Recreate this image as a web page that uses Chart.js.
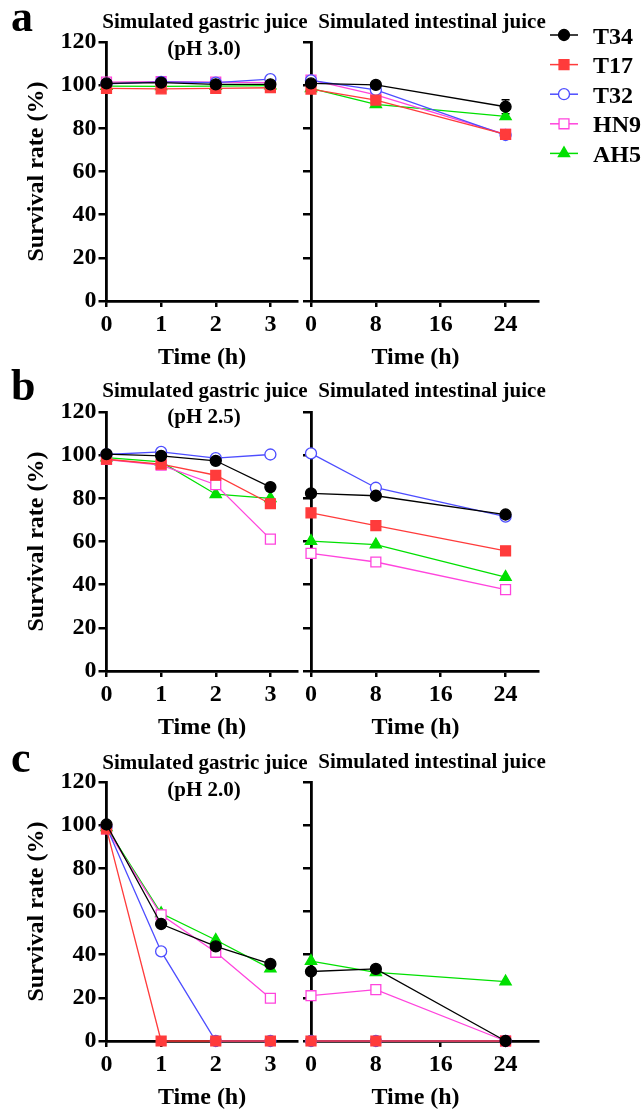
<!DOCTYPE html>
<html>
<head>
<meta charset="utf-8">
<script src="https://cdn.jsdelivr.net/npm/chart.js@4.4.0/dist/chart.umd.min.js"></script>
<style>
  html, body { margin: 0; padding: 0; background: #fff; }
  #fig { position: relative; width: 641px; height: 1110px; overflow: hidden; }
  .row { position: absolute; left: 0; width: 641px; height: 372px; }
  canvas { position: absolute; top: 0; }
  .txt { position: absolute; font-family: 'Liberation Serif', 'Times New Roman', serif; font-weight: bold;
         white-space: nowrap; color: #000; }
  .ttl { font-size: 21px; line-height: 21px; transform: translateX(-50%); }
  .letter { font-size: 44px; line-height: 44px; left: 11px; }
</style>
</head>
<body>
<div id="fig">
  <div class="row" style="top:0px">
    <canvas id="aGastric" width="306" height="372" style="left:0px"></canvas>
    <canvas id="aIntest" width="351" height="372" style="left:290px"></canvas>
    <div class="txt letter" style="top:-5px">a</div>
    <div class="txt ttl" style="left:205px;top:11px">Simulated gastric juice</div>
    <div class="txt ttl" style="left:204px;top:38px">(pH 3.0)</div>
    <div class="txt ttl" style="left:432px;top:11px">Simulated intestinal juice</div>
  </div>
  <div class="row" style="top:370px">
    <canvas id="bGastric" width="306" height="372" style="left:0px"></canvas>
    <canvas id="bIntest" width="351" height="372" style="left:290px"></canvas>
    <div class="txt letter" style="top:-6px">b</div>
    <div class="txt ttl" style="left:205px;top:10px">Simulated gastric juice</div>
    <div class="txt ttl" style="left:204px;top:36px">(pH 2.5)</div>
    <div class="txt ttl" style="left:432px;top:10px">Simulated intestinal juice</div>
  </div>
  <div class="row" style="top:740px">
    <canvas id="cGastric" width="306" height="372" style="left:0px"></canvas>
    <canvas id="cIntest" width="351" height="372" style="left:290px"></canvas>
    <div class="txt letter" style="top:-4px">c</div>
    <div class="txt ttl" style="left:205px;top:12px">Simulated gastric juice</div>
    <div class="txt ttl" style="left:204px;top:39px">(pH 2.0)</div>
    <div class="txt ttl" style="left:432px;top:11px">Simulated intestinal juice</div>
  </div>
</div>
<script>
// sampling times and ticks
const gastricHours = [0, 1, 2, 3];
const intestinalHours = [0, 8, 24];
const gastricTicks = [0, 1, 2, 3];
const intestinalTicks = [0, 8, 16, 24];
const survivalTicks = [0, 20, 40, 60, 80, 100, 120];
const strainNames = ["T34", "T17", "T32", "HN9", "AH5"];

// a - pH 3.0
const aGastricT34 = [100.8, 101.2, 100.4, 100.4];
const aGastricT17 = [98.5, 98.3, 98.5, 98.8];
const aGastricT32 = [100.6, 101.5, 101.2, 102.8];
const aGastricHN9 = [101.4, 101.6, 101.4, 101.2];
const aGastricAH5 = [99.6, 99.4, 99.6, 99.8];
const aIntestT34 = [100.8, 100.1, 90.0];
const aIntestT34Err = [0, 0, 3.2];
const aIntestT17 = [98.2, 93.1, 77.2];
const aIntestT32 = [102.2, 97.8, 76.9];
const aIntestHN9 = [102.4, 95.5, 77.2];
const aIntestAH5 = [98.5, 91.1, 85.5];

// b - pH 2.5
const bGastricT34 = [100.5, 99.7, 97.4, 85.2];
const bGastricT17 = [98.1, 95.8, 90.7, 77.5];
const bGastricT32 = [100.3, 101.5, 98.6, 100.3];
const bGastricHN9 = [98.0, 95.4, 86.3, 61.1];
const bGastricAH5 = [98.9, 96.9, 81.9, 80.0];
const bIntestT34 = [82.3, 81.2, 72.5];
const bIntestT17 = [73.3, 67.4, 55.7];
const bIntestT32 = [100.8, 84.9, 71.5];
const bIntestHN9 = [54.5, 50.5, 37.7];
const bIntestAH5 = [60.2, 58.6, 43.5];

// c - pH 2.0
const cGastricT34 = [100.3, 54.2, 43.8, 35.7];
const cGastricT17 = [98.3, 0, 0, 0];
const cGastricT32 = [99.2, 41.5, 0, 0];
const cGastricHN9 = [98.3, 58.5, 41.1, 19.8];
const cGastricAH5 = [99.0, 59.2, 46.8, 33.5];
const cIntestT34 = [32.2, 33.4, 0];
const cIntestT17 = [0, 0, 0];
const cIntestT32 = [0, 0, 0];
const cIntestHN9 = [21.0, 23.8, 0];
const cIntestAH5 = [37.0, 31.8, 27.5];

const serif = "'Liberation Serif', 'Times New Roman', serif";
const boldFont = { family: serif, size: 24, weight: "bold", lineHeight: 1.2 };

const strainStyles = [
  { color: "#000000", pointStyle: "circle", radius: 5.5, fill: "#000000" },
  { color: "#ff3b3b", pointStyle: "rect", radius: 7, fill: "#ff3b3b" },
  { color: "#4d4dff", pointStyle: "circle", radius: 5.5, fill: "#ffffff" },
  { color: "#ff44dd", pointStyle: "rect", radius: 7, fill: "#ffffff" },
  { color: "#00e000", pointStyle: "triangle", radius: 6.5, fill: "#00e000" }
];

function makeDatasets(hours, series, errors) {
  return strainNames.map((name, i) => {
    const st = strainStyles[i];
    return {
      label: name,
      data: hours.map((h, k) => ({ x: h, y: series[i][k] })),
      errors: errors ? errors[i] : null,
      borderColor: st.color,
      backgroundColor: st.fill,
      borderWidth: 1.3,
      pointStyle: st.pointStyle,
      pointRadius: st.radius,
      pointBackgroundColor: st.fill,
      pointBorderColor: st.color,
      pointBorderWidth: 1.3,
      tension: 0,
      fill: false,
      clip: false
    };
  });
}

// small vertical error bars, drawn under the markers
const errorBarPlugin = {
  id: "errorBars",
  beforeDatasetsDraw(chart) {
    const { ctx } = chart;
    const xs = chart.scales.x, ys = chart.scales.y;
    chart.data.datasets.forEach(ds => {
      if (!ds.errors) return;
      ctx.save();
      ctx.strokeStyle = ds.borderColor;
      ctx.lineWidth = 1.5;
      ds.data.forEach((p, k) => {
        const e = ds.errors[k];
        if (!e) return;
        const px = xs.getPixelForValue(p.x);
        const top = ys.getPixelForValue(p.y + e);
        const bot = ys.getPixelForValue(p.y - e);
        ctx.beginPath();
        ctx.moveTo(px, top); ctx.lineTo(px, bot);
        ctx.moveTo(px - 4, top); ctx.lineTo(px + 4, top);
        ctx.moveTo(px - 4, bot); ctx.lineTo(px + 4, bot);
        ctx.stroke();
      });
      ctx.restore();
    });
  }
};

// legend with a line + marker sample, placed at the right edge
const sideLegendPlugin = {
  id: "sideLegend",
  afterDraw(chart, args, opts) {
    if (!opts.display) return;
    const ctx = chart.ctx;
    chart.data.datasets.forEach((ds, i) => {
      const y = opts.top + i * opts.gap;
      ctx.save();
      ctx.strokeStyle = ds.borderColor;
      ctx.lineWidth = 1.5;
      ctx.beginPath();
      ctx.moveTo(opts.x, y);
      ctx.lineTo(opts.x + opts.lineLength, y);
      ctx.stroke();
      ctx.fillStyle = ds.pointBackgroundColor;
      ctx.strokeStyle = ds.pointBorderColor;
      ctx.lineWidth = ds.pointBorderWidth;
      Chart.helpers.drawPoint(ctx, {
        pointStyle: ds.pointStyle, radius: ds.pointRadius, borderWidth: ds.pointBorderWidth, rotation: 0
      }, opts.x + opts.lineLength / 2, y);
      ctx.fillStyle = "#000";
      ctx.font = "bold 24px " + serif;
      ctx.textBaseline = "alphabetic";
      ctx.textAlign = "left";
      ctx.fillText(ds.label, opts.textX, y + 8.5);
      ctx.restore();
    });
  }
};

function panelChart(canvasId, hours, xMax, xTicks, series, errors, isLeft, withLegend) {
  const ctx = document.getElementById(canvasId).getContext("2d");
  const axisBorder = { display: true, color: "#000", width: 2.8 };
  return new Chart(ctx, {
    type: "line",
    data: { datasets: makeDatasets(hours, series, errors) },
    options: {
      responsive: false,
      animation: false,
      layout: { padding: { top: 42, bottom: 0, left: 0, right: isLeft ? 4 : 103 } },
      plugins: {
        legend: { display: false },
        tooltip: { enabled: false },
        sideLegend: { display: withLegend, x: 260, lineLength: 28, textX: 303, top: 35, gap: 29.6 }
      },
      scales: {
        x: {
          type: "linear",
          min: 0,
          max: xMax,
          afterBuildTicks: s => { s.ticks = xTicks.map(v => ({ value: v })); },
          afterFit: s => { s.height = 71; },
          border: axisBorder,
          grid: { drawOnChartArea: false, drawTicks: true, tickLength: 6, color: "#000", lineWidth: 2.5 },
          ticks: { font: boldFont, color: "#000", padding: 3.5, maxRotation: 0, autoSkip: false },
          // trailing spaces nudge the right-hand title a little left, as in the original
          title: { display: true, text: isLeft ? "Time (h)" : "Time (h)   ", font: boldFont, color: "#000", padding: { top: 0, bottom: 0 } }
        },
        y: {
          min: 0,
          max: 120,
          afterBuildTicks: s => { s.ticks = survivalTicks.map(v => ({ value: v })); },
          afterFit: s => { s.width = isLeft ? 106.5 : 21; },
          border: axisBorder,
          grid: { drawOnChartArea: false, drawTicks: true, tickLength: 8, color: "#000", lineWidth: 2.5 },
          ticks: { font: boldFont, color: "#000", padding: 2, callback: v => (isLeft ? v : "") },
          title: { display: isLeft, text: "Survival rate (%)", font: boldFont, color: "#000", padding: { top: 22, bottom: 0 } }
        }
      }
    },
    plugins: [errorBarPlugin, sideLegendPlugin]
  });
}

panelChart("aGastric", gastricHours, 3.5, gastricTicks,
  [aGastricT34, aGastricT17, aGastricT32, aGastricHN9, aGastricAH5], null, true, false);
panelChart("aIntest", intestinalHours, 28, intestinalTicks,
  [aIntestT34, aIntestT17, aIntestT32, aIntestHN9, aIntestAH5], [aIntestT34Err, null, null, null, null], false, true);

panelChart("bGastric", gastricHours, 3.5, gastricTicks,
  [bGastricT34, bGastricT17, bGastricT32, bGastricHN9, bGastricAH5], null, true, false);
panelChart("bIntest", intestinalHours, 28, intestinalTicks,
  [bIntestT34, bIntestT17, bIntestT32, bIntestHN9, bIntestAH5], null, false, false);

panelChart("cGastric", gastricHours, 3.5, gastricTicks,
  [cGastricT34, cGastricT17, cGastricT32, cGastricHN9, cGastricAH5], null, true, false);
panelChart("cIntest", intestinalHours, 28, intestinalTicks,
  [cIntestT34, cIntestT17, cIntestT32, cIntestHN9, cIntestAH5], null, false, false);
</script>
</body>
</html>
